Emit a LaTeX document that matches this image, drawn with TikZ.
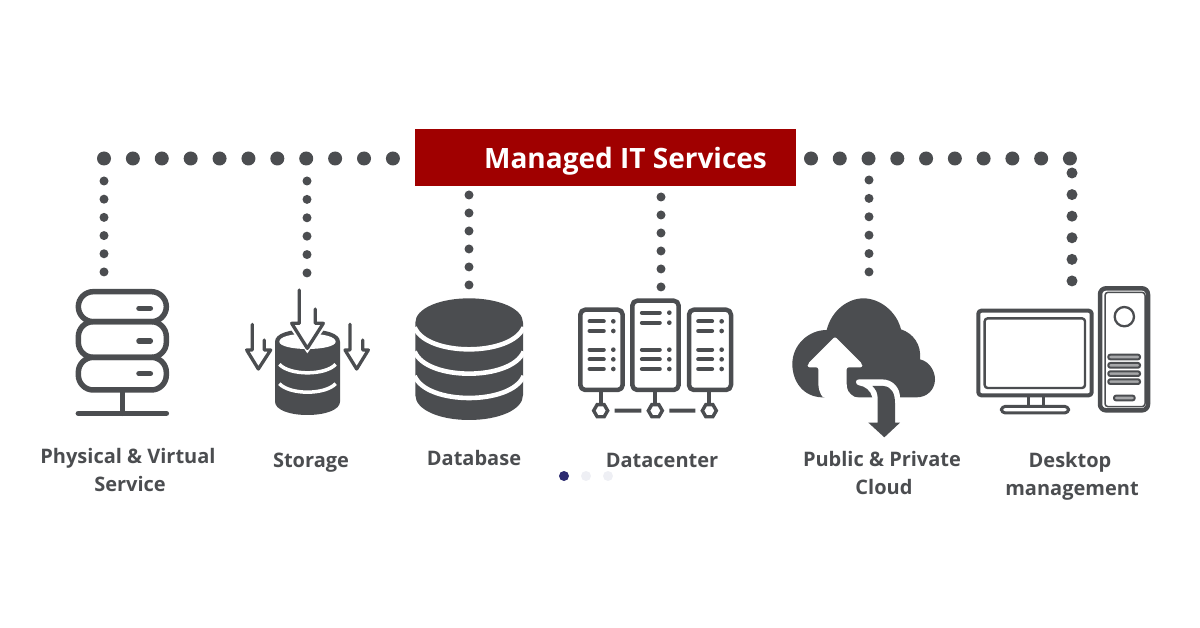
\documentclass[tikz,border=0pt]{standalone}
\usepackage{fontspec}
\setmainfont{Open Sans}
\usetikzlibrary{positioning}
\usetikzlibrary{shapes.geometric}
\definecolor{icongray}{HTML}{4B4D50}
\definecolor{hubred}{HTML}{A00000}
\definecolor{pagernavy}{HTML}{2B2A70}
\definecolor{pagerpale}{HTML}{EEEFF4}
\definecolor{slotgray}{HTML}{A6A7A9}
\tikzset{
  dotrow/.style 2 args={icongray,line width=#1,line cap=round,dash pattern=on 0pt off #2},
  zoomed/.style={shift={(#1)},scale=1/3},
  caption/.style={icongray,font=\fontsize{20}{28}\selectfont\bfseries,align=center,inner sep=0pt},
  stroked/.style={icongray,line width=#1,line cap=round,line join=round},
  hexnode/.style={regular polygon,regular polygon sides=6,draw=icongray,fill=white,line width=3.4pt,minimum size=14pt,inner sep=0pt},
  pagerdot/.style={circle,fill=#1,minimum size=10pt,inner sep=0pt}
}
\begin{document}
\begin{tikzpicture}[x=1pt,y=-1pt]
  \useasboundingbox (0,0) rectangle (1200,628);

  %draw title box
  \draw (605.5,157.5) node[fill=hubred,minimum width=381pt,minimum height=57pt,inner sep=0pt] (hub) {};
  \draw (625.5,158) node[text=white,inner sep=0pt,font=\fontsize{28}{34}\selectfont\bfseries,anchor=center,yshift=-3.5pt] (hubcap) {Managed IT Services};

  %draw top rows of dots
  \coordinate (rowLa) at (104,158.5);
  \coordinate (rowLb) at (393,158.5);
  \coordinate (rowRa) at (811,158.5);
  \coordinate (rowRb) at (1070,158.5);
  \draw[dotrow={14pt}{28.89pt}] (rowLa) -- (rowLb);
  \draw[dotrow={14pt}{28.77pt}] (rowRa) -- (rowRb);

  %draw dots down to the icons
  \coordinate (physA) at (104,181);
  \coordinate (physB) at (104,272);
  \coordinate (storA) at (307,181);
  \coordinate (storB) at (307,273);
  \coordinate (baseA) at (469,195);
  \coordinate (baseB) at (469,285);
  \coordinate (centA) at (661,197);
  \coordinate (centB) at (661,287);
  \coordinate (clouA) at (869,180);
  \coordinate (clouB) at (869,272);
  \coordinate (deskA) at (1072,173);
  \coordinate (deskB) at (1072,281);
  \draw[dotrow={9pt}{18.19pt}] (physA) -- (physB);
  \draw[dotrow={9pt}{18.39pt}] (storA) -- (storB);
  \draw[dotrow={9pt}{17.99pt}] (baseA) -- (baseB);
  \draw[dotrow={9pt}{17.99pt}] (centA) -- (centB);
  \draw[dotrow={9pt}{18.39pt}] (clouA) -- (clouB);
  \draw[dotrow={11pt}{21.59pt}] (deskA) -- (deskB);

  %draw server stack
  \begin{scope}[zoomed={40,270}]
    \foreach \top/\bot in {65/155,155/262,262/360}{
      \draw[stroked=5.5pt,rounded corners=15pt] (115,\top) rectangle (379,\bot);
    }
    \foreach \y in {115,213,311}{
      \draw[stroked=5.5pt] (297,\y) -- (331,\y);
    }
    \draw[stroked=5.5pt] (247,360) -- (247,430);
    \draw[stroked=5.5pt] (115,430) -- (379,430);
  \end{scope}

  %draw storage cylinder and arrows
  \begin{scope}[zoomed={240,285}]
    \fill[icongray] (105,170) .. controls (105,145) and (150,133) .. (202,133) .. controls (255,133) and (300,145) .. (300,170) -- (300,350) .. controls (300,375) and (255,390) .. (202,390) .. controls (150,390) and (105,375) .. (105,350) -- cycle;
    \fill[white] (118,170) .. controls (118,155) and (155,146) .. (202,146) .. controls (250,146) and (287,155) .. (287,170) .. controls (287,183) and (250,192) .. (202,192) .. controls (155,192) and (118,183) .. (118,170) -- cycle;
    \draw[white,line width=3.5pt] (118,238) .. controls (150,272) and (255,272) .. (287,238);
    \draw[white,line width=3.5pt] (118,296) .. controls (150,330) and (255,330) .. (287,296);
    \fill[white] (140,115) -- (265,115) -- (202,205) -- cycle;
    \draw[stroked=3.3pt] (178,15) -- (178,115) -- (155,115) -- (202,190) -- (250,115) -- (226,115) -- (226,72);
    \draw[stroked=3.3pt] (37,118) -- (37,195) -- (20,195) -- (55,252) -- (92,195) -- (73,195) -- (73,165);
    \draw[stroked=3.3pt] (330,118) -- (330,195) -- (315,195) -- (350,252) -- (385,195) -- (368,195) -- (368,165);
  \end{scope}

  %draw database cylinder
  \begin{scope}[zoomed={400,280}]
    \fill[icongray] (46,128) .. controls (46,85) and (120,55) .. (207,55) .. controls (295,55) and (369,85) .. (369,128) -- (369,345) .. controls (369,390) and (295,420) .. (207,420) .. controls (120,420) and (46,390) .. (46,345) -- cycle;
    \foreach \y in {142,215,288}{
      \draw[white,line width=4.6pt] (44,\y) .. controls (80,\y+88) and (334,\y+88) .. (371,\y);
    }
  \end{scope}

  %draw datacenter racks
  \begin{scope}[zoomed={400,280}]
    \draw[stroked=4.5pt,rounded corners=5pt] (541,89) rectangle (668,330);
    \draw[stroked=4.5pt,rounded corners=5pt] (697,62) rectangle (836,330);
    \draw[stroked=4.5pt,rounded corners=5pt] (867,89) rectangle (993,330);
    \foreach \y in {124,153,209,238,267}{
      \draw[stroked=4.3pt] (569,\y) -- (611,\y);
      \fill[icongray] (640,\y) circle (7pt);
      \draw[stroked=4.3pt] (895,\y) -- (936,\y);
      \fill[icongray] (965,\y) circle (7pt);
    }
    \foreach \y in {98,128,209,238,267}{
      \draw[stroked=4.3pt] (726,\y) -- (779,\y);
      \fill[icongray] (808,\y) circle (7pt);
    }
    \draw (602,392) node[hexnode] (hexa) {};
    \draw (766,392) node[hexnode] (hexb) {};
    \draw (928,392) node[hexnode] (hexc) {};
    \draw[icongray,line width=4pt,shorten >=5pt,shorten <=5pt] (hexa) -- (hexb);
    \draw[icongray,line width=4pt,shorten >=5pt,shorten <=5pt] (hexb) -- (hexc);
    \draw[icongray,line width=4pt] (602,335) -- (602,368);
    \draw[icongray,line width=4pt] (766,335) -- (766,368);
    \draw[icongray,line width=4pt] (928,335) -- (928,368);
  \end{scope}

  %draw cloud with up and down arrows
  \begin{scope}[zoomed={785,290}]
    \fill[icongray] (110,322) .. controls (55,320) and (22,275) .. (22,222) .. controls (22,165) and (70,120) .. (125,120) .. controls (140,60) and (190,25) .. (235,25) .. controls (285,25) and (335,65) .. (348,118) .. controls (385,130) and (410,165) .. (405,208) .. controls (435,215) and (450,245) .. (450,268) .. controls (450,300) and (425,322) .. (395,322) -- cycle;
    \fill[white,rounded corners=2pt] (150,140) -- (232,222) -- (232,232) -- (185,232) -- (185,285) .. controls (187,308) and (205,322) .. (225,324) -- (115,324) .. controls (105,310) and (100,295) .. (100,275) -- (100,232) -- (68,232) -- (68,222) -- cycle;
    \fill[white] (222,268) -- (290,268) .. controls (325,268) and (345,295) .. (345,322) -- (345,400) -- (262,400) -- (262,322) .. controls (258,302) and (240,288) .. (222,286) .. controls (210,284) and (210,268) .. (222,268) -- cycle;
    \fill[icongray] (262,288) -- (295,288) .. controls (320,290) and (330,310) .. (330,340) -- (330,398) -- (345,398) -- (298,442) -- (250,398) -- (278,398) -- (278,325) .. controls (278,308) and (272,297) .. (262,288) -- cycle;
  \end{scope}

  %draw desktop computer
  \begin{scope}[zoomed={780,270}]
    \draw[stroked=4pt,rounded corners=3pt] (595,122) rectangle (935,376);
    \draw[stroked=2.4pt,rounded corners=3pt] (614,145) rectangle (915,354);
    \draw[stroked=2.7pt] (745,382) -- (745,405);
    \draw[stroked=2.7pt] (790,382) -- (790,405);
    \draw[stroked=3pt,rounded corners=4pt] (664,409) rectangle (866,429);
    \draw[stroked=4.5pt,rounded corners=6pt] (960,55) rectangle (1104,421);
    \draw[stroked=1.5pt,rounded corners=3pt] (975,67) rectangle (1095,410);
    \draw[stroked=2.3pt] (1033,140) circle (29pt);
    \foreach \y in {261,286,311,335}{
      \draw[stroked=2pt,fill=slotgray,rounded corners=2pt] (985,\y-7) rectangle (1080,\y+7);
    }
    \draw[stroked=2pt,fill=slotgray,rounded corners=2pt] (1002,377) rectangle (1064,391);
  \end{scope}

  %draw captions
  \draw (128,470) node[caption] (physcap) {Physical \& Virtual\\\hspace*{4pt}Service};
  \draw (311,463) node[caption] (storcap) {Storage};
  \draw (474,458) node[caption] (basecap) {Database};
  \draw (662,460) node[caption] (centcap) {Datacenter};
  \draw (882,473) node[caption] (cloucap) {Public \& Private\\\hspace*{4pt}Cloud};
  \draw (1072,476) node[caption] (deskcap) {Desktop\hspace*{4pt}\\management};

  %draw pager dots
  \draw (564,476) node[pagerdot=pagernavy] (pagera) {};
  \draw (586,476) node[pagerdot=pagerpale] (pagerb) {};
  \draw (608,476) node[pagerdot=pagerpale] (pagerc) {};
\end{tikzpicture}
\end{document}
